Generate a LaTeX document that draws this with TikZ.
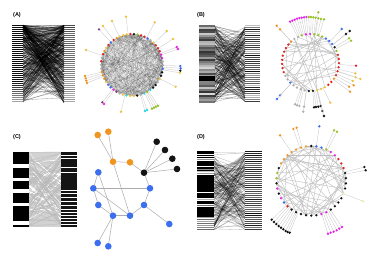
\documentclass[tikz,border=0pt]{standalone}
\usepackage{fontspec}
\setsansfont{Liberation Sans}
\definecolor{cR}{RGB}{225,35,35}
\definecolor{cK}{RGB}{20,20,20}
\definecolor{cG}{RGB}{150,195,40}
\definecolor{cM}{RGB}{230,40,230}
\definecolor{cB}{RGB}{60,110,240}
\definecolor{cY}{RGB}{240,195,60}
\definecolor{cO}{RGB}{240,150,30}
\definecolor{cA}{RGB}{175,175,175}
\definecolor{cC}{RGB}{40,215,230}
\definecolor{cP}{RGB}{130,60,120}
\definecolor{cW}{RGB}{240,235,170}
\newcommand\ringnodes[6]{%
  \foreach \cc [count=\kk] in {#6}{%
    \pgfmathsetmacro\angA{#4-(\kk-1)*(360/#5)}%
    \fill[\cc] ({#1+#3*cos(\angA)},{#2-#3*sin(\angA)}) circle (1.3);
  }}
\newcommand\chordset[7]{% cx cy r N start count seed
  \pgfmathsetseed{#7}%
  \foreach \ii in {1,...,#6}{%
    \pgfmathtruncatemacro\ka{floor(#4*rnd)}%
    \pgfmathtruncatemacro\kb{floor(#4*rnd)}%
    \pgfmathsetmacro\angA{#5-\ka*(360/#4)}\pgfmathsetmacro\angB{#5-\kb*(360/#4)}%
    \draw[chord] ({#1+#3*cos(\angA)},{#2-#3*sin(\angA)}) -- ({#1+#3*cos(\angB)},{#2-#3*sin(\angB)});
  }}
\newcommand\pend[6]{%
  \pgfmathsetmacro\pa{atan2(#2-#5,#4-#1)}%
  \draw[pline] ({#1+#3*cos(\pa)},{#2-#3*sin(\pa)}) -- (#4,#5);
  \fill[#6] (#4,#5) circle (1.3);}
\newcommand\plines[8]{% x1 x2 ytop h count seed e1 e2
  \pgfmathsetseed{#6}%
  \foreach \ii in {1,...,#5}{%
    \pgfmathsetmacro\ua{rnd}\pgfmathsetmacro\ub{rnd}%
    \draw[pl] (#1,{#3+#4*\ua^#7}) -- (#2,{#3+#4*\ub^#8});}}
\begin{document}
\begin{tikzpicture}[x=1pt,y=-1pt,
  lab/.style={font=\sffamily\bfseries\fontsize{5.5}{6}\selectfont, inner sep=0pt},
  pline/.style={gray!45, line width=0.3pt},
  chord/.style={gray!60, line width=0.3pt},
  pl/.style={black, opacity=0.5, line width=0.3pt},
  cn/.style={circle, minimum size=6.6pt, inner sep=0pt, draw=none},
  ge/.style={gray!65, line width=0.5pt}]
\useasboundingbox (0,0) rectangle (379,263);
\fill[white] (0,0) rectangle (379,263);

% ---------------- labels
\node[lab] (labA) at (17,15) {(A)};
\node[lab] (labB) at (201,15) {(B)};
\node[lab] (labC) at (17,137) {(C)};
\node[lab] (labD) at (201,137) {(D)};

% ---------------- Panel A parallel
\foreach \k in {0,...,38}{\pgfmathtruncatemacro\s{\k<29 ? 95 : 95-(\k-28)*6}
  \fill[black!\s] (12,{25+2*\k}) rectangle (23,{26.2+2*\k});}
\pgfmathsetseed{11}
\foreach \k in {0,...,38}{\pgfmathtruncatemacro\s{68-\k*0.8+16*rnd-8}
  \fill[black!\s] (64,{25+2*\k}) rectangle (75,{26.3+2*\k});}
\begin{scope}[pl/.style={black, opacity=0.4, line width=0.3pt}]
\plines{23}{64}{25}{78}{420}{5}{1.8}{1.5}
\end{scope}

% ---------------- Panel A network
\begin{scope}[chord/.style={black, opacity=0.1, line width=0.3pt}]
\chordset{132}{65}{31}{54}{133}{560}{7}
\end{scope}
\foreach \px/\py/\pc in {126/16.7/cY,112/21/cY,103/26/cY,99/29.3/cP,154.7/22.3/cY,166.7/31/cY,173/39/cY,
  176.7/47/cM,178/49/cM,86/50/cY,180.3/66/cB,180.7/68.3/cB,180.3/70.7/cK,180/72.8/cY,
  85/76/cO,85.7/78.3/cO,86.3/80.7/cO,87/83/cO,175.7/86.7/cY,102.3/102.3/cP,104/104/cM,
  121/111.7/cY,145/111/cC,147/110/cC,152/108.7/cG,154/107.7/cG,156/106.7/cG,158/105.7/cG}
  {\pend{132}{65}{31}{\px}{\py}{\pc}}
\ringnodes{132}{65}{31}{133}{54}{cB,cR,cO,cY,cY,cY,cR,cK,cG,cR,cR,cB,cA,cY,cR,cR,cR,cM,cM,cA,cA,cB,cK,cK,cY,cA,cK,cK,cC,cG,cC,cA,cK,cY,cY,cC,cY,cA,cP,cM,cB,cB,cY,cO,cO,cO,cA,cA,cR,cA,cR,cO,cY,cR}

% ---------------- Panel B parallel
\pgfmathsetseed{21}
\foreach \k in {0,...,38}{\pgfmathtruncatemacro\s{15+70*rnd}
  \fill[black!\s] (199,{25+2*\k}) rectangle (215,{26.5+2*\k});}
\fill[black] (199,76) rectangle (215,81);
\pgfmathsetseed{23}
\foreach \k in {0,...,38}{\pgfmathtruncatemacro\s{25+70*rnd}
  \fill[black!\s] (245,{25+2*\k}) rectangle (260,{26.4+2*\k});}
\begin{scope}[pl/.style={black, opacity=0.4, line width=0.3pt}]
\plines{215}{245}{26}{76}{220}{9}{1}{1}
\end{scope}

% ---------------- Panel B network
\begin{scope}[chord/.style={gray!55, line width=0.35pt}]
\chordset{310.5}{62.5}{28.5}{43}{116}{40}{13}
\end{scope}
\foreach \px/\py/\pc in {290/21.7/cM,292.3/20.7/cM,294.7/19.7/cM,297/18.7/cM,299.3/18/cM,301.7/17.7/cM,304/17.3/cM,306.3/17/cM,
  308.7/17/cG,311/17/cG,313.3/17.3/cG,315.7/17.7/cG,318.3/18.3/cG,321/19/cG,324/19.3/cG,318.3/12.3/cG,
  276.7/25.7/cO,280/29.3/cO,341.7/29/cB,349.7/31/cK,346/34/cK,349/38.3/cG,351/40.7/cG,
  356/65.7/cR,355.3/73.3/cY,355.7/77.3/cY,360.3/79/cY,352.7/81/cY,349/86.7/cO,353.7/85.3/cO,350/91.7/cO,
  280/95.3/cB,277/99/cB,295/104.3/cA,297/105.3/cA,299.3/106/cA,304/106.7/cA,303.3/111.7/cA,
  314/107.3/cK,316/107/cK,318.3/106.7/cK,320.7/106/cK,322.3/111/cK,324/116/cK,330.3/102.7/cY}
  {\pend{310.5}{62.5}{28.5}{\px}{\py}{\pc}}
\ringnodes{310.5}{62.5}{28.5}{116}{43}{cA,cG,cM,cM,cG,cG,cG,cB,cB,cB,cK,cG,cR,cR,cR,cR,cR,cR,cO,cR,cR,cY,cY,cY,cK,cK,cA,cA,cA,cA,cB,cA,cA,cR,cR,cR,cR,cR,cR,cR,cR,cO,cA}

% ---------------- Panel C parallel
\fill[gray!35] (29,152) rectangle (61,227);
\begin{scope}[pl/.style={white, line width=0.9pt}]
\plines{29}{61}{153}{72}{20}{31}{1}{1}
\end{scope}
\begin{scope}[pl/.style={gray!55, line width=0.3pt}]
\plines{29}{61}{152}{75}{80}{33}{1}{1}
\end{scope}
\foreach \ya/\yb in {151.7/164.3,168.3/177.7,181/189.3,192.7/202.7,206/220.7,225/227.3}
  {\fill[black] (13,\ya) rectangle (29,\yb);}
\fill[black!92] (61,151.7) rectangle (77,227.3);
\foreach \yy in {155,158,167,172,190,193,197,201,205,209,212,215,218,221,224}
  {\draw[white, line width=0.5pt] (61,\yy) -- (77,\yy);}

% ---------------- Panel C graph
\foreach \u/\ux/\uy in {o1/97.7/135,o2/108.3/131.7,o3/113/161.7,o4/130/162.3,k0/144/172.7,k1/156.7/141.7,k2/165/150,k3/172.3/158.7,k4/177/169,
  b1/98.3/172.3,b2/93.3/188.3,b3/150/188.3,b4/98.3/205,b5/113/215.7,b6/130/215.7,b7/144/205,b8/169.3/224,b9/97.7/243,b10/108.3/246.3}
  {\coordinate (\u) at (\ux,\uy);}
\foreach \u/\v in {o1/o3,o2/o3,o3/o4,o4/k0,k0/k1,k0/k2,k0/k3,k0/k4,k0/b3,o3/b6,b1/b2,b1/b5,b2/b3,b2/b4,b2/b6,b4/b5,b5/b6,b6/b7,b7/b3,b7/b8,b5/b9,b5/b10}
  {\draw[ge] (\u) -- (\v);}
\foreach \u in {o1,o2,o3,o4} {\node[cn, fill=cO] (n\u) at (\u) {};}
\foreach \u in {k0,k1,k2,k3,k4} {\node[cn, fill=cK] (n\u) at (\u) {};}
\foreach \u in {b1,b2,b3,b4,b5,b6,b7,b8,b9,b10} {\node[cn, fill=cB] (n\u) at (\u) {};}

% ---------------- Panel D parallel
\pgfmathsetseed{41}
\foreach \k in {0,...,39}{\pgfmathtruncatemacro\s{20+40*rnd}
  \fill[black!\s] (197,{151+2*\k}) rectangle (214,{152.3+2*\k});}
\foreach \ya/\yb in {150.7/154,155/156,156.7/158,160.7/166,167.3/168.7,170/171.3,175/191.7,193.3/198.3,200.7/204,207.3/217.3}
  {\fill[black] (197,\ya) rectangle (214,\yb);}
\pgfmathsetseed{43}
\foreach \k in {0,...,39}{\pgfmathtruncatemacro\s{45+50*rnd}
  \fill[black!\s] (245,{151+2*\k}) rectangle (262,{152.4+2*\k});}
\begin{scope}[pl/.style={black, opacity=0.3, line width=0.3pt}]
\plines{214}{245}{151}{79}{200}{47}{1}{1}
\end{scope}

% ---------------- Panel D network
\begin{scope}[chord/.style={gray!50, line width=0.4pt}]
\chordset{311.2}{180.8}{34.8}{42}{90}{70}{53}
\end{scope}
\foreach \px/\py/\pc in {280/135.3/cO,293.3/129/cO,296.7/127.7/cO,319.3/126.3/cB,334/130.3/cG,337/131.7/cG,
  364.3/167/cK,365.7/170.3/cK,363/201.3/cW,
  271.7/219.7/cK,274/222/cK,276.3/224/cK,278.7/226/cK,281/227.7/cK,283.3/229.3/cK,285.7/231/cK,287.7/232/cK,289.7/232.7/cK,
  328/233.7/cM,330.7/232.7/cM,333.7/231.7/cM,336.7/230.3/cM,339.3/228.7/cM,342/227/cM}
  {\pend{311.2}{180.8}{34.8}{\px}{\py}{\pc}}
\ringnodes{311.2}{180.8}{34.8}{90}{42}{cK,cB,cB,cG,cM,cM,cR,cR,cR,cK,cK,cK,cK,cW,cK,cK,cK,cK,cM,cM,cK,cK,cK,cK,cK,cK,cR,cB,cM,cK,cM,cK,cG,cG,cK,cO,cO,cO,cO,cO,cO,cO}
\end{tikzpicture}
\end{document}
